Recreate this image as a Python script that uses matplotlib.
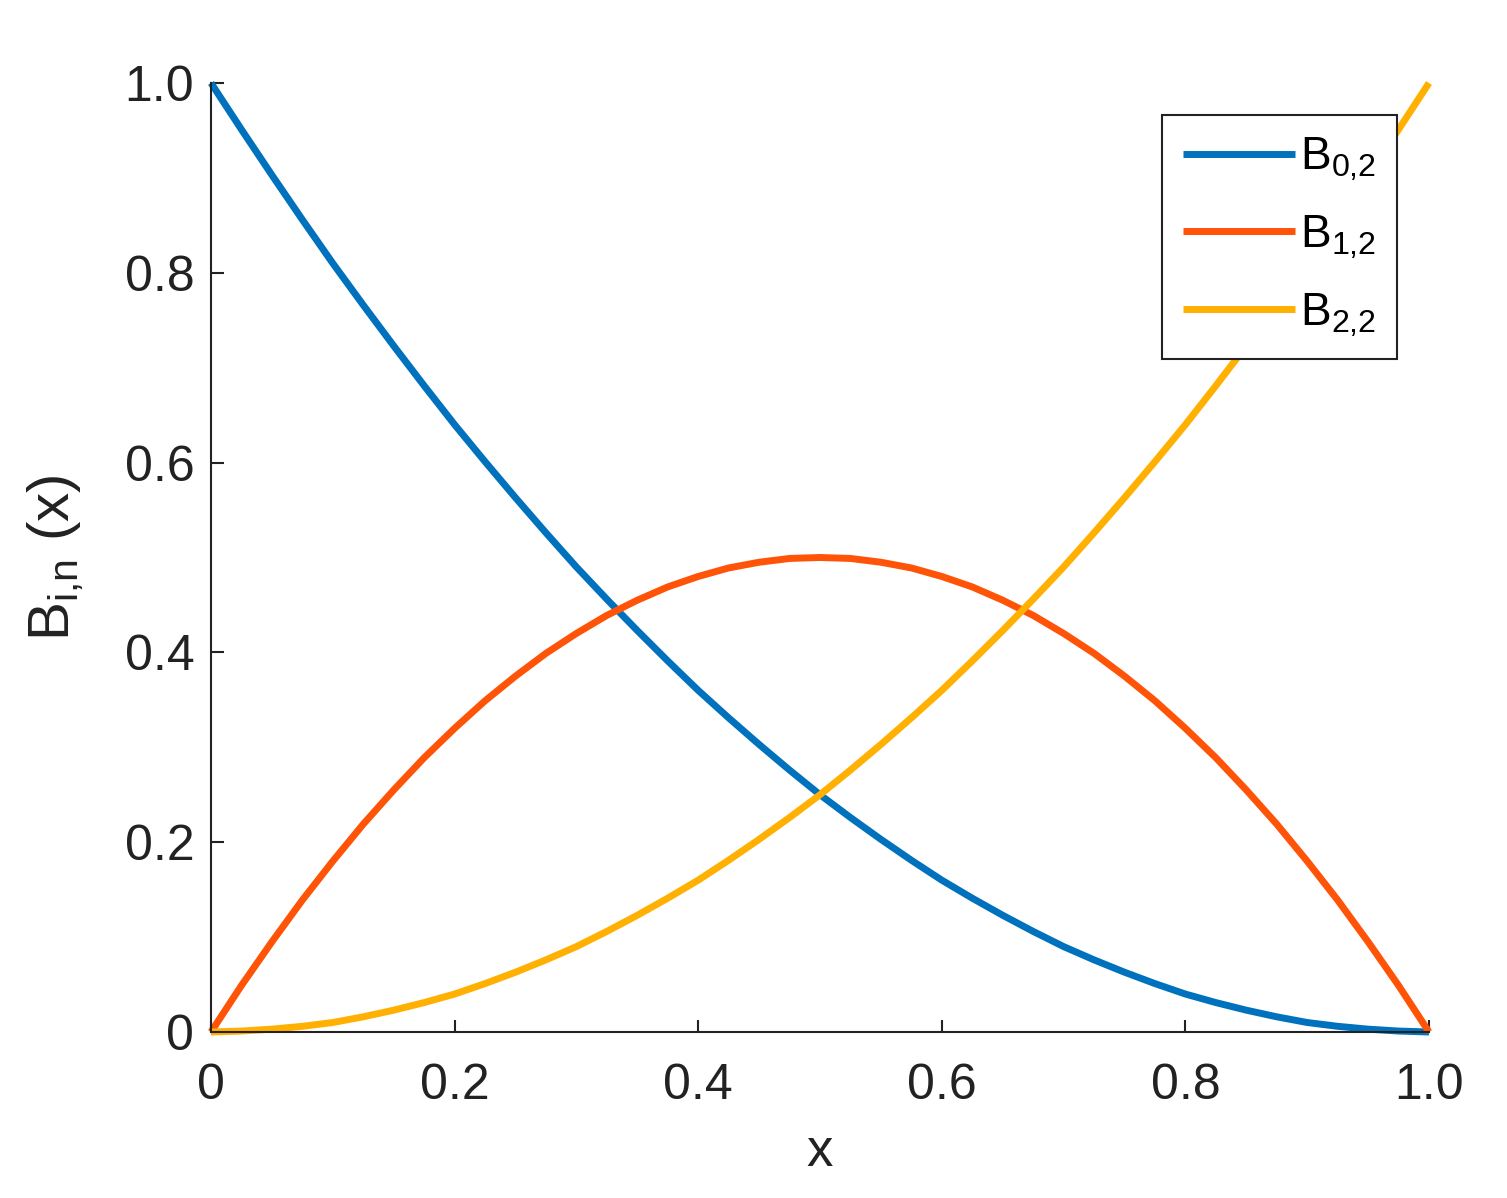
import matplotlib
matplotlib.use("Agg")
import matplotlib.pyplot as plt

plt.rcParams['font.family'] = ['Liberation Sans', 'DejaVu Sans']
plt.rcParams['mathtext.fontset'] = 'custom'
plt.rcParams['mathtext.rm'] = 'Liberation Sans'
plt.rcParams['mathtext.it'] = 'Liberation Sans'

# Values (x from 0 to 1 in steps of 0.025)
x_vals = [0.000, 0.025, 0.050, 0.075, 0.100, 0.125, 0.150, 0.175, 0.200, 0.225,
          0.250, 0.275, 0.300, 0.325, 0.350, 0.375, 0.400, 0.425, 0.450, 0.475,
          0.500, 0.525, 0.550, 0.575, 0.600, 0.625, 0.650, 0.675, 0.700, 0.725,
          0.750, 0.775, 0.800, 0.825, 0.850, 0.875, 0.900, 0.925, 0.950, 0.975, 1.000]
b02 = [1.000, 0.951, 0.903, 0.856, 0.810, 0.766, 0.723, 0.681, 0.640, 0.601,
       0.563, 0.526, 0.490, 0.456, 0.423, 0.391, 0.360, 0.331, 0.303, 0.276,
       0.250, 0.226, 0.203, 0.181, 0.160, 0.141, 0.123, 0.106, 0.090, 0.076,
       0.063, 0.051, 0.040, 0.031, 0.023, 0.016, 0.010, 0.006, 0.003, 0.001, 0.000]
b12 = [0.000, 0.049, 0.095, 0.139, 0.180, 0.219, 0.255, 0.289, 0.320, 0.349,
       0.375, 0.399, 0.420, 0.439, 0.455, 0.469, 0.480, 0.489, 0.495, 0.499,
       0.500, 0.499, 0.495, 0.489, 0.480, 0.469, 0.455, 0.439, 0.420, 0.399,
       0.375, 0.349, 0.320, 0.289, 0.255, 0.219, 0.180, 0.139, 0.095, 0.049, 0.000]
b22 = [0.000, 0.001, 0.003, 0.006, 0.010, 0.016, 0.023, 0.031, 0.040, 0.051,
       0.063, 0.076, 0.090, 0.106, 0.123, 0.141, 0.160, 0.181, 0.203, 0.226,
       0.250, 0.276, 0.303, 0.331, 0.360, 0.391, 0.423, 0.456, 0.490, 0.526,
       0.563, 0.601, 0.640, 0.681, 0.723, 0.766, 0.810, 0.856, 0.903, 0.951, 1.000]
labels = [r'$\mathregular{B_{0{,}2}}$', r'$\mathregular{B_{1{,}2}}$', r'$\mathregular{B_{2{,}2}}$']
colors = ['#0072BD', '#FF5408', '#FFB000']
tick_vals = [0, 0.2, 0.4, 0.6, 0.8, 1.0]
tick_labels = ['0', '0.2', '0.4', '0.6', '0.8', '1.0']

W, H = 1507, 1198
fig = plt.figure(figsize=(W / 100, H / 100), dpi=100)
ax = fig.add_axes([211 / W, 1 - 1032 / H, (1429 - 211) / W, (1032 - 83) / H])

for ys, c, lab in zip([b02, b12, b22], colors, labels):
    ax.plot(x_vals, ys, color=c, lw=5, label=lab, clip_on=False,
            solid_capstyle='butt', solid_joinstyle='round')

ax.set_xlim(0, 1)
ax.set_ylim(0, 1)
ax.set_xticks(tick_vals)
ax.set_xticklabels(tick_labels)
ax.set_yticks(tick_vals)
ax.set_yticklabels(tick_labels)
for s in ['top', 'right']:
    ax.spines[s].set_visible(False)
for s in ['left', 'bottom']:
    ax.spines[s].set_linewidth(1.5)
    ax.spines[s].set_color('#222222')
ax.tick_params(direction='in', length=9, width=1.5, colors='#222222',
               labelsize=36, labelcolor='#222222')
ax.tick_params(axis='y', pad=12)
ax.tick_params(axis='x', pad=22)

ax.set_xlabel('x', fontsize=38, color='#222222', labelpad=13)
fig.text(26 / W, 1 - 558 / H, r'$\mathregular{B_{i{,}n}}$ (x)', fontsize=42,
         color='#222222', rotation=90, ha='left', va='center')

leg = ax.legend(loc='upper left', bbox_to_anchor=((1162 - 211) / 1218, (1032 - 115) / 949),
                fontsize=33, frameon=True, fancybox=False, framealpha=1.0,
                handlelength=2.45, handletextpad=0.12, labelspacing=0.66,
                borderpad=0.45, borderaxespad=0)
leg.get_frame().set_edgecolor('#222222')
leg.get_frame().set_linewidth(1.5)
leg.set_zorder(10)

fig.savefig('out.png', dpi=100)
